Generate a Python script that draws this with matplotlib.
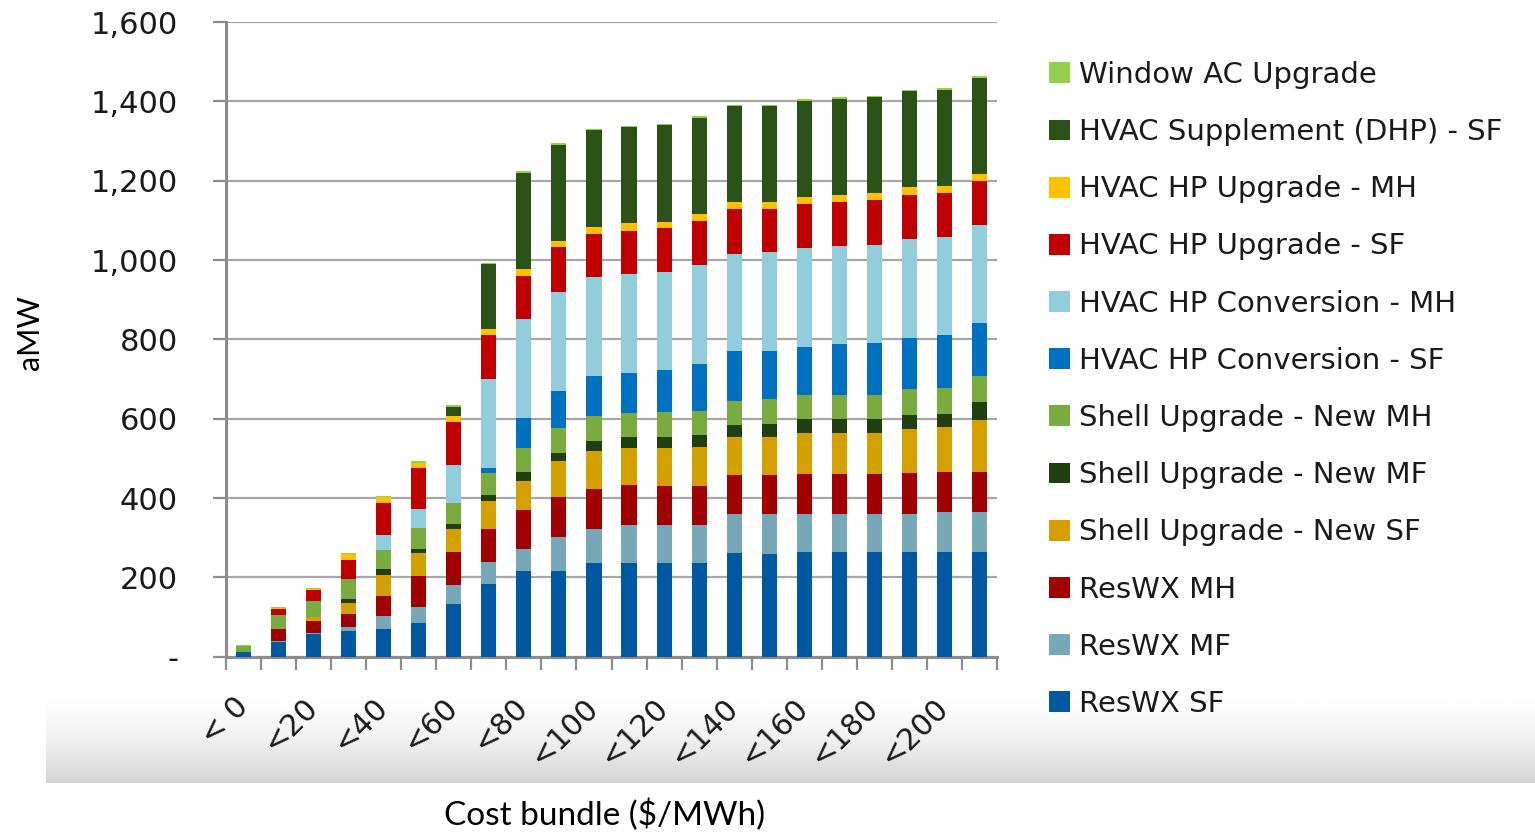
import numpy as np
import matplotlib
matplotlib.use("Agg")
import matplotlib.pyplot as plt
from matplotlib.patches import Patch

# ---------------- data ----------------
categories = ["< 0", "<10", "<20", "<30", "<40", "<50", "<60", "<70", "<80", "<90", "<100",
              "<110", "<120", "<130", "<140", "<150", "<160", "<170", "<180", "<190", "<200", "<210"]

res_sf  = [13, 38, 57, 66, 70, 85, 133, 183, 215, 216, 236, 236, 236, 236, 261, 260, 264, 264, 264, 264, 265, 265]
res_mf  = [0, 2, 3, 8, 33, 40, 48, 55, 57, 87, 87, 95, 95, 95, 99, 100, 96, 96, 96, 96, 100, 100]
res_mh  = [0, 31, 31, 34, 50, 78, 83, 84, 98, 99, 100, 101, 100, 100, 98, 98, 100, 100, 100, 103, 101, 101]
sh_sf   = [0, 0, 8, 27, 54, 59, 57, 71, 72, 91, 95, 93, 94, 97, 96, 96, 104, 104, 104, 111, 113, 131]
sh_mf   = [0, 0, 2, 11, 13, 10, 14, 15, 24, 21, 27, 29, 29, 30, 30, 33, 35, 35, 35, 36, 34, 44]
sh_mh   = [15, 34, 39, 49, 49, 52, 53, 55, 59, 63, 61, 61, 62, 61, 61, 63, 61, 61, 61, 64, 64, 67]
conv_sf = [0, 0, 0, 0, 0, 0, 0, 13, 77, 92, 101, 101, 106, 119, 125, 120, 120, 128, 130, 130, 133, 133]
conv_mh = [0, 0, 0, 0, 38, 49, 94, 223, 250, 251, 249, 248, 248, 249, 246, 250, 250, 247, 249, 249, 249, 248]
up_sf   = [0, 14, 27, 50, 80, 103, 109, 111, 108, 112, 109, 110, 110, 112, 112, 108, 111, 112, 112, 110, 110, 110]
up_mh   = [0, 5, 4, 15, 15, 13, 17, 15, 17, 16, 17, 19, 17, 18, 17, 17, 18, 18, 17, 20, 18, 18]
dhp     = [0, 0, 0, 0, 0, 0, 21, 164, 242, 243, 245, 242, 243, 241, 243, 243, 242, 242, 242, 242, 242, 242]
wac     = [2, 2, 3, 2, 3, 5, 6, 4, 5, 4, 4, 4, 4, 4, 4, 4, 4, 4, 4, 4, 4, 4]

series_names = ["ResWX SF", "ResWX MF", "ResWX MH", "Shell Upgrade - New SF",
                "Shell Upgrade - New MF", "Shell Upgrade - New MH", "HVAC HP Conversion - SF",
                "HVAC HP Conversion - MH", "HVAC HP Upgrade - SF", "HVAC HP Upgrade - MH",
                "HVAC Supplement (DHP) - SF", "Window AC Upgrade"]
series_values = [res_sf, res_mf, res_mh, sh_sf, sh_mf, sh_mh, conv_sf, conv_mh,
                 up_sf, up_mh, dhp, wac]
series_colors = ["#0058A0", "#77A8B8", "#A00000", "#D4A000", "#1F3F0E", "#7AAB3E",
                 "#0070C0", "#92CDDC", "#C00000", "#FFC000", "#2A5116", "#92D050"]

yticks = [0, 200, 400, 600, 800, 1000, 1200, 1400, 1600]
ytick_labels = ["-", "200", "400", "600", "800", "1,000", "1,200", "1,400", "1,600"]

# ---------------- figure ----------------
W, H = 1535, 832
fig = plt.figure(figsize=(W / 100, H / 100), dpi=100)
fig.patch.set_facecolor("white")

# gradient band behind x tick labels
band = fig.add_axes([46 / W, (H - 783) / H, 1 - 46 / W, 100 / H], zorder=0)
t = np.linspace(0, 1, 200)
grad = 1 - 0.17 * t ** 1.8
band.imshow(np.repeat(grad[:, None], 10, axis=1), aspect="auto", cmap="gray",
            vmin=0, vmax=1, extent=[0, 1, 1, 0], interpolation="bilinear")
band.set_axis_off()

ax = fig.add_axes([226 / W, (H - 656.7) / H, (997 - 226) / W, (656.7 - 22) / H], zorder=1)

x = np.arange(len(categories))
bottom = np.zeros(len(categories))
handles = []
for name, vals, col in zip(series_names, series_values, series_colors):
    v = np.array(vals, dtype=float)
    ax.bar(x, v, width=0.43, bottom=bottom, color=col, linewidth=0, zorder=3)
    bottom += v
    handles.append(Patch(facecolor=col, edgecolor="none", label=name))

ax.set_xlim(-0.5, len(categories) - 0.5)
ax.set_ylim(0, 1600)

gray = "#8C8C8C"
ax.set_yticks(yticks)
ax.set_yticklabels(ytick_labels)
ax.yaxis.grid(True, color="#A6A6A6", linewidth=1.6, zorder=0)
ax.set_axisbelow(True)

for s in ["top", "right"]:
    ax.spines[s].set_visible(False)
for s in ["left", "bottom"]:
    ax.spines[s].set_color(gray)
    ax.spines[s].set_linewidth(2.2)

ax.tick_params(axis="y", length=9.5, width=1.6, color=gray, pad=25,
               labelsize=22, labelcolor="#1a1a1a")

# x axis: ticks at category boundaries, labels every other category
ax.set_xticks(x[::2])
ax.set_xticklabels(categories[::2], rotation=45, ha="right", rotation_mode="anchor",
                   va="center", fontsize=21.5, color="#1a1a1a")
ax.tick_params(axis="x", which="major", length=0, pad=33)
ax.set_xticks(np.arange(-0.5, len(categories), 1.0), minor=True)
ax.tick_params(axis="x", which="minor", length=9.5, width=1.6, color=gray)

for lab in ax.get_yticklabels() + ax.get_xticklabels():
    lab.set_fontfamily("DejaVu Sans")

fig.text(30 / W, 1 - 332 / H, "aMW", rotation=90, ha="center", va="center",
         fontsize=22, family="Lato", color="black")
fig.text(605 / W, 1 - 815 / H, "Cost bundle ($/MWh)", ha="center", va="center",
         fontsize=24, family="Lato", color="black")

leg = fig.legend(handles=handles[::-1], loc="upper left",
                 bbox_to_anchor=(1049 / W, 1 - 61 / H), frameon=False,
                 prop={"family": "DejaVu Sans", "size": 21},
                 handlelength=0.72, handleheight=0.72, handletextpad=0.31,
                 labelspacing=1.0, borderaxespad=0, borderpad=0)
for txt in leg.get_texts():
    txt.set_color("#1a1a1a")

fig.savefig("out.png", dpi=100, facecolor="white")
